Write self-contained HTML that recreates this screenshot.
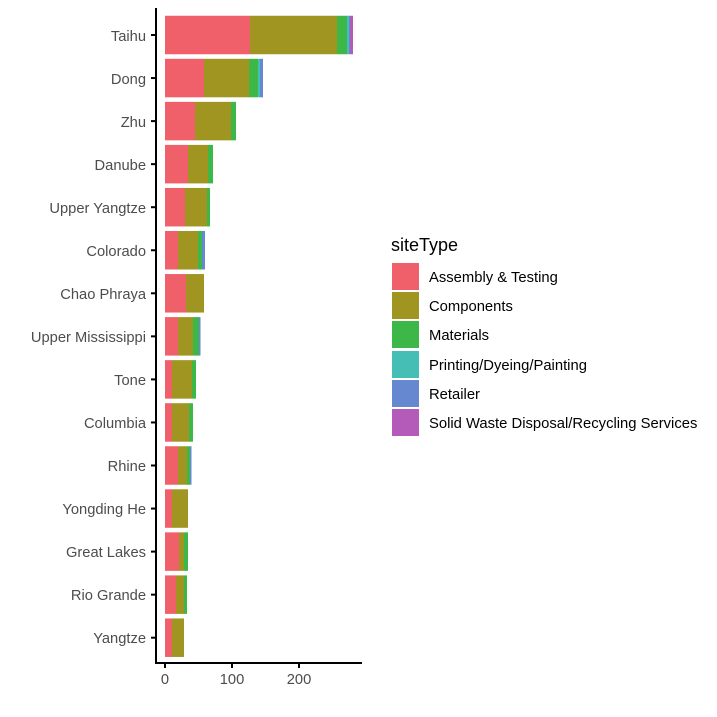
<!DOCTYPE html><html><head><style>body{margin:0;background:#fff}svg{display:block;font-family:"Liberation Sans",sans-serif}</style></head><body>
<svg width="717" height="717" xmlns="http://www.w3.org/2000/svg">
<g>
<rect x="165" y="15.75" width="85" height="38.5" fill="#F0606A"/><rect x="250" y="15.75" width="87" height="38.5" fill="#A09520"/><rect x="337" y="15.75" width="10" height="38.5" fill="#3DB848"/><rect x="347" y="15.75" width="2" height="38.5" fill="#45BFB5"/><rect x="349" y="15.75" width="1" height="38.5" fill="#6688D0"/><rect x="350" y="15.75" width="3" height="38.5" fill="#B45AB8"/>
<rect x="165" y="58.8" width="39" height="38.5" fill="#F0606A"/><rect x="204" y="58.8" width="45" height="38.5" fill="#A09520"/><rect x="249" y="58.8" width="9" height="38.5" fill="#3DB848"/><rect x="258" y="58.8" width="2" height="38.5" fill="#45BFB5"/><rect x="260" y="58.8" width="3" height="38.5" fill="#6688D0"/>
<rect x="165" y="101.85" width="30" height="38.5" fill="#F0606A"/><rect x="195" y="101.85" width="36" height="38.5" fill="#A09520"/><rect x="231" y="101.85" width="5" height="38.5" fill="#3DB848"/>
<rect x="165" y="144.9" width="23" height="38.5" fill="#F0606A"/><rect x="188" y="144.9" width="20" height="38.5" fill="#A09520"/><rect x="208" y="144.9" width="5" height="38.5" fill="#3DB848"/>
<rect x="165" y="187.95" width="20" height="38.5" fill="#F0606A"/><rect x="185" y="187.95" width="22" height="38.5" fill="#A09520"/><rect x="207" y="187.95" width="3" height="38.5" fill="#3DB848"/>
<rect x="165" y="231" width="13" height="38.5" fill="#F0606A"/><rect x="178" y="231" width="20" height="38.5" fill="#A09520"/><rect x="198" y="231" width="4" height="38.5" fill="#3DB848"/><rect x="202" y="231" width="3" height="38.5" fill="#6688D0"/>
<rect x="165" y="274.05" width="21" height="38.5" fill="#F0606A"/><rect x="186" y="274.05" width="18" height="38.5" fill="#A09520"/>
<rect x="165" y="317.1" width="13" height="38.5" fill="#F0606A"/><rect x="178" y="317.1" width="15" height="38.5" fill="#A09520"/><rect x="193" y="317.1" width="6" height="38.5" fill="#3DB848"/><rect x="199" y="317.1" width="1.5" height="38.5" fill="#6688D0"/>
<rect x="165" y="360.15" width="7" height="38.5" fill="#F0606A"/><rect x="172" y="360.15" width="20" height="38.5" fill="#A09520"/><rect x="192" y="360.15" width="4" height="38.5" fill="#3DB848"/>
<rect x="165" y="403.2" width="7" height="38.5" fill="#F0606A"/><rect x="172" y="403.2" width="17" height="38.5" fill="#A09520"/><rect x="189" y="403.2" width="4" height="38.5" fill="#3DB848"/>
<rect x="165" y="446.25" width="13" height="38.5" fill="#F0606A"/><rect x="178" y="446.25" width="9" height="38.5" fill="#A09520"/><rect x="187" y="446.25" width="3" height="38.5" fill="#3DB848"/><rect x="190" y="446.25" width="1.5" height="38.5" fill="#6688D0"/>
<rect x="165" y="489.3" width="7" height="38.5" fill="#F0606A"/><rect x="172" y="489.3" width="16" height="38.5" fill="#A09520"/>
<rect x="165" y="532.35" width="14" height="38.5" fill="#F0606A"/><rect x="179" y="532.35" width="5" height="38.5" fill="#A09520"/><rect x="184" y="532.35" width="4" height="38.5" fill="#3DB848"/>
<rect x="165" y="575.4" width="11" height="38.5" fill="#F0606A"/><rect x="176" y="575.4" width="8" height="38.5" fill="#A09520"/><rect x="184" y="575.4" width="3" height="38.5" fill="#3DB848"/>
<rect x="165" y="618.45" width="7" height="38.5" fill="#F0606A"/><rect x="172" y="618.45" width="12" height="38.5" fill="#A09520"/>
</g>
<line x1="156" y1="8" x2="156" y2="664" stroke="#000" stroke-width="2"/>
<line x1="155" y1="663" x2="362" y2="663" stroke="#000" stroke-width="2"/>
<g stroke="#000" stroke-width="2"><line x1="165" y1="663" x2="165" y2="668"/><line x1="232" y1="663" x2="232" y2="668"/><line x1="299" y1="663" x2="299" y2="668"/>
<line x1="151" y1="35" x2="156" y2="35"/><line x1="151" y1="78.05" x2="156" y2="78.05"/><line x1="151" y1="121.1" x2="156" y2="121.1"/><line x1="151" y1="164.15" x2="156" y2="164.15"/><line x1="151" y1="207.2" x2="156" y2="207.2"/><line x1="151" y1="250.25" x2="156" y2="250.25"/><line x1="151" y1="293.3" x2="156" y2="293.3"/><line x1="151" y1="336.35" x2="156" y2="336.35"/><line x1="151" y1="379.4" x2="156" y2="379.4"/><line x1="151" y1="422.45" x2="156" y2="422.45"/><line x1="151" y1="465.5" x2="156" y2="465.5"/><line x1="151" y1="508.55" x2="156" y2="508.55"/><line x1="151" y1="551.6" x2="156" y2="551.6"/><line x1="151" y1="594.65" x2="156" y2="594.65"/><line x1="151" y1="637.7" x2="156" y2="637.7"/></g>
<g font-size="14.7" fill="#4d4d4d" text-anchor="middle"><text x="165" y="684">0</text><text x="232" y="684">100</text><text x="299" y="684">200</text></g>
<g font-size="14.7" fill="#4d4d4d" text-anchor="end">
<text x="146" y="41">Taihu</text><text x="146" y="84">Dong</text><text x="146" y="127">Zhu</text><text x="146" y="170">Danube</text><text x="146" y="213">Upper Yangtze</text><text x="146" y="256">Colorado</text><text x="146" y="299">Chao Phraya</text><text x="146" y="342">Upper Mississippi</text><text x="146" y="385">Tone</text><text x="146" y="428">Columbia</text><text x="146" y="471">Rhine</text><text x="146" y="514">Yongding He</text><text x="146" y="557">Great Lakes</text><text x="146" y="600">Rio Grande</text><text x="146" y="643">Yangtze</text>
</g>
<text x="391" y="251" font-size="18" fill="#000">siteType</text>
<g font-size="14.8" fill="#000">
<rect x="392" y="263" width="27" height="27" fill="#F0606A"/><text x="429" y="282">Assembly &amp; Testing</text>
<rect x="392" y="292" width="27" height="27" fill="#A09520"/><text x="429" y="311">Components</text>
<rect x="392" y="321" width="27" height="27" fill="#3DB848"/><text x="429" y="340">Materials</text>
<rect x="392" y="351" width="27" height="27" fill="#45BFB5"/><text x="429" y="370">Printing/Dyeing/Painting</text>
<rect x="392" y="380" width="27" height="27" fill="#6688D0"/><text x="429" y="399">Retailer</text>
<rect x="392" y="409" width="27" height="27" fill="#B45AB8"/><text x="429" y="428">Solid Waste Disposal/Recycling Services</text>
</g>
</svg></body></html>
